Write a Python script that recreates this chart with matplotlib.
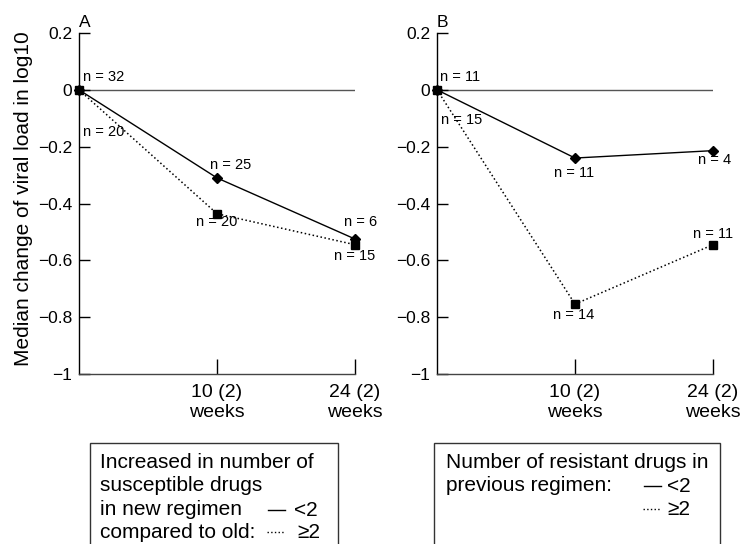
import matplotlib
matplotlib.use('Agg')
import matplotlib.pyplot as plt
from matplotlib.lines import Line2D
from matplotlib.patches import Rectangle

# Data
x_pos = [0, 1, 2]
x_labels = ['10 (2)\nweeks', '24 (2)\nweeks']

# Panel A: increase in number of susceptible drugs
a_lt2 = [0.0, -0.31, -0.525]
a_ge2 = [0.0, -0.436, -0.545]
a_lt2_n = [32, 25, 6]
a_ge2_n = [20, 20, 15]

# Panel B: number of resistant drugs in previous regimen
b_lt2 = [0.0, -0.24, -0.214]
b_ge2 = [0.0, -0.754, -0.545]
b_lt2_n = [11, 11, 4]
b_ge2_n = [15, 14, 11]

y_ticks = [-1, -0.8, -0.6, -0.4, -0.2, 0, 0.2]
y_tick_labels = ['\u22121', '\u22120.8', '\u22120.6', '\u22120.4', '\u22120.2', '0', '0.2']

# label offsets (points) for each n = ... annotation
a_lt2_off = [(3, 9, 'left'), (10, 9, 'center'), (4, 12, 'center')]
a_ge2_off = [(3, -30, 'left'), (0, -6, 'center'), (0, -8, 'center')]
b_lt2_off = [(2, 9, 'left'), (-1, -11, 'center'), (1, -7, 'center')]
b_ge2_off = [(3, -22, 'left'), (-1, -8, 'center'), (0, 8, 'center')]

plt.rcParams['font.family'] = ['Liberation Sans', 'DejaVu Sans']


def annotate_n(ax, ys, ns, offsets):
    for x, y, n, (dx, dy, ha) in zip(x_pos, ys, ns, offsets):
        ax.annotate('n = %d' % n, (x, y), xytext=(dx, dy), textcoords='offset points',
                    ha=ha, va='center', fontsize=10.5)


def draw_panel(ax, lt2, ge2, lt2_n, ge2_n, lt2_off, ge2_off, letter):
    ax.axhline(0, color='#555555', lw=1.0, zorder=1)
    ax.plot(x_pos, lt2, '-', color='black', lw=1.0, marker='D', markersize=5, clip_on=False, zorder=3)
    ax.plot(x_pos, ge2, ':', color='black', lw=1.1, marker='s', markersize=5.5, clip_on=False, zorder=4)
    annotate_n(ax, lt2, lt2_n, lt2_off)
    annotate_n(ax, ge2, ge2_n, ge2_off)

    ax.set_xlim(0, 2)
    ax.set_ylim(-1, 0.2)
    ax.set_yticks(y_ticks)
    ax.set_yticklabels(y_tick_labels, fontsize=12.5)
    ax.set_xticks(x_pos[1:])
    ax.set_xticklabels(x_labels, fontsize=14, linespacing=1.25)
    ax.tick_params(axis='y', direction='in', length=8, width=1.0, pad=5)
    ax.tick_params(axis='x', direction='in', length=11, width=1.0, pad=7)
    for s in ['top', 'right']:
        ax.spines[s].set_visible(False)
    ax.spines['left'].set_linewidth(1.0)
    ax.spines['bottom'].set_linewidth(1.0)
    ax.spines['bottom'].set_color('#444444')
    ax.text(0, 1.008, letter, transform=ax.transAxes, ha='left', va='bottom', fontsize=12.5)


def legend_box(fig, x0, x1, lines, samples):
    # box runs off the bottom of the picture like the original
    W, H = 743.0, 544.0
    fig.add_artist(Rectangle((x0 / W, -0.1), (x1 - x0) / W, 0.1 + (H - 443) / H,
                             transform=fig.transFigure, fill=False, edgecolor='#333333',
                             lw=1.0, clip_on=False))
    for (tx, ty, txt) in lines:
        fig.text(tx / W, 1 - ty / H, txt, ha='left', va='baseline', fontsize=15)
    for (lx0, lx1, ly, ls, tx, sym) in samples:
        fig.add_artist(Line2D([lx0 / W, lx1 / W], [1 - ly / H, 1 - ly / H], ls=ls,
                              color='black', lw=1.0, transform=fig.transFigure))
        fig.text(tx / W, 1 - (ly + 6) / H, sym, ha='left', va='baseline', fontsize=15)


fig = plt.figure(figsize=(7.43, 5.44), dpi=100)
ax_a = fig.add_axes([79 / 743, 170 / 544, 276 / 743, 341 / 544])
ax_b = fig.add_axes([437 / 743, 170 / 544, 276 / 743, 341 / 544])

draw_panel(ax_a, a_lt2, a_ge2, a_lt2_n, a_ge2_n, a_lt2_off, a_ge2_off, 'A')
draw_panel(ax_b, b_lt2, b_ge2, b_lt2_n, b_ge2_n, b_lt2_off, b_ge2_off, 'B')

ax_a.set_ylabel('Median change of viral load in log10', fontsize=15)
ax_a.yaxis.set_label_coords(-0.168, 0.515)

legend_box(fig, 90, 338,
           [(100, 468, 'Increased in number of'),
            (100, 491, 'susceptible drugs'),
            (100, 515, 'in new regimen'),
            (100, 538, 'compared to old:')],
           [(268, 285, 510, '-', 294, '<2'),
            (267, 285, 532, ':', 297, '\u22652')])
legend_box(fig, 434, 720,
           [(446, 468, 'Number of resistant drugs in'),
            (446, 491, 'previous regimen:')],
           [(644, 661, 486, '-', 667, '<2'),
            (643, 660, 509, ':', 667, '\u22652')])

fig.savefig('out.png', dpi=100)
